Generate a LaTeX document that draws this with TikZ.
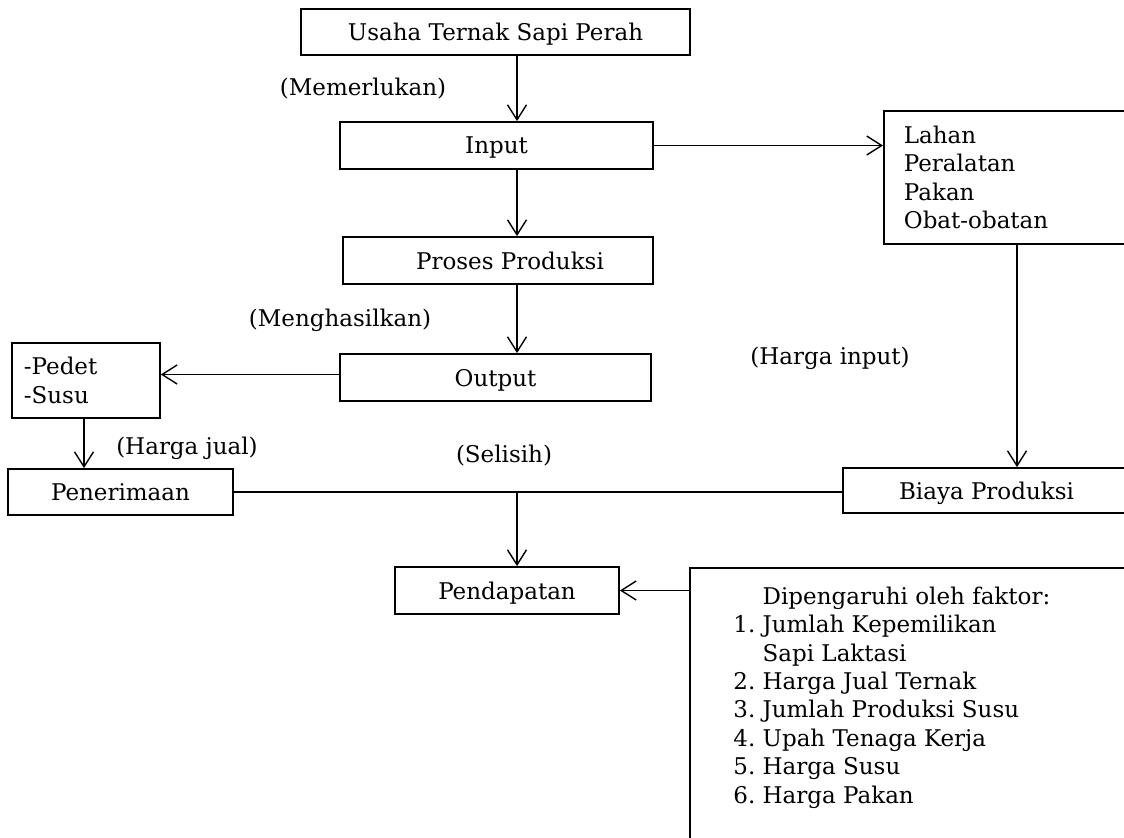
\documentclass[tikz,border=0pt]{standalone}
\usepackage{fontspec}
\setmainfont{DejaVu Serif}
\usetikzlibrary{arrows.meta}

\tikzset{
  box/.style={draw, line width=0.9pt, inner sep=0pt, anchor=center, text depth=0pt},
  listbox/.style={draw, line width=0.9pt, inner ysep=0pt, align=left, anchor=north west},
  tag/.style={inner sep=0pt, anchor=center},
  arr/.style={line width=0.7pt, -{Straight Barb[length=7.5pt,width=9.5pt,line width=0.7pt]}},
  link/.style={line width=0.9pt}
}

\begin{document}
\begin{tikzpicture}[x=0.5pt, y=-0.5pt, font=\fontsize{11.5}{14.2}\selectfont]
  \useasboundingbox (0,0) rectangle (1124,837);
  \fill[white] (0,0) rectangle (1124,837);
  \clip (0,0) rectangle (1124,837);

  % guide columns for the vertical connectors
  \coordinate (spine) at (517,0);
  \coordinate (rcol) at (1017,0);
  \coordinate (lcol) at (84,0);

  % main chain
  \node[box, minimum width=194.5pt, minimum height=23pt] (b1) at (495.5,32) {Usaha Ternak Sapi Perah};
  \node[box, minimum width=156.5pt, minimum height=23.5pt] (b2) at (496.5,145.5) {Input};
  \node[box, minimum width=155pt, minimum height=23.5pt] (b3) at (498,260.5) {\hspace{12pt}Proses Produksi};
  \node[box, minimum width=155.5pt, minimum height=23.5pt] (b4) at (495.5,377.5) {Output};

  % input list
  \node[listbox, inner xsep=10pt, text width=103.5pt, minimum height=66.5pt] (b8) at (883,110)
    {Lahan\\Peralatan\\Pakan\\Obat-obatan};

  % output list
  \node[listbox, inner xsep=6pt, text width=62pt, minimum height=37.5pt] (b5) at (11,342)
    {-Pedet\\-Susu};

  % revenue and cost
  \node[box, minimum width=112.5pt, minimum height=23pt] (b6) at (120.5,492) {Penerimaan};
  \node[box, minimum width=143.5pt, minimum height=22.5pt] (b7) at (986.5,490.5) {Biaya Produksi\hspace{6.5pt}};

  % income
  \node[box, minimum width=112pt, minimum height=23.5pt] (b9) at (507,590.5) {Pendapatan};

  % factors
  \node[box, minimum width=220pt, minimum height=141pt] (b10) at (910,709) {};
  \node[anchor=north west, inner sep=0pt, align=left] (t10) at (733,584)
    {\begin{tabular}{@{}r@{\ }l@{}}
      & Dipengaruhi oleh faktor:\\
     1. & Jumlah Kepemilikan\\
        & Sapi Laktasi\\
     2. & Harga Jual Ternak\\
     3. & Jumlah Produksi Susu\\
     4. & Upah Tenaga Kerja\\
     5. & Harga Susu\\
     6. & Harga Pakan
    \end{tabular}};

  % connector labels
  \node[tag] (l1) at (363,89) {(Memerlukan)};
  \node[tag] (l2) at (340,320) {(Menghasilkan)};
  \node[tag] (l3) at (187,448) {(Harga jual)};
  \node[tag] (l4) at (830,358) {(Harga input)};
  \node[tag] (l5) at (504,456) {(Selisih)};

  % connectors
  \draw[arr] (b1.south -| spine) -- (b2.north -| spine);
  \draw[arr] (b2.south -| spine) -- (b3.north -| spine);
  \draw[arr] (b3.south -| spine) -- (b4.north -| spine);
  \draw[arr] (b2.east) -- (b2.east -| b8.west);
  \draw[arr] ([yshift=1.5pt]b4.west) -- ([yshift=1.5pt]b4.west -| b5.east);
  \draw[arr] (b5.south -| lcol) -- (b6.north -| lcol);
  \draw[arr] (b8.south -| rcol) -- (b7.north -| rcol);
  \draw[link] (b6.east) -- (b6.east -| b7.west);
  \draw[arr] (b6.east -| spine) -- (b9.north -| spine);
  \draw[arr] (b9.east -| b10.west) -- (b9.east);
\end{tikzpicture}
\end{document}
